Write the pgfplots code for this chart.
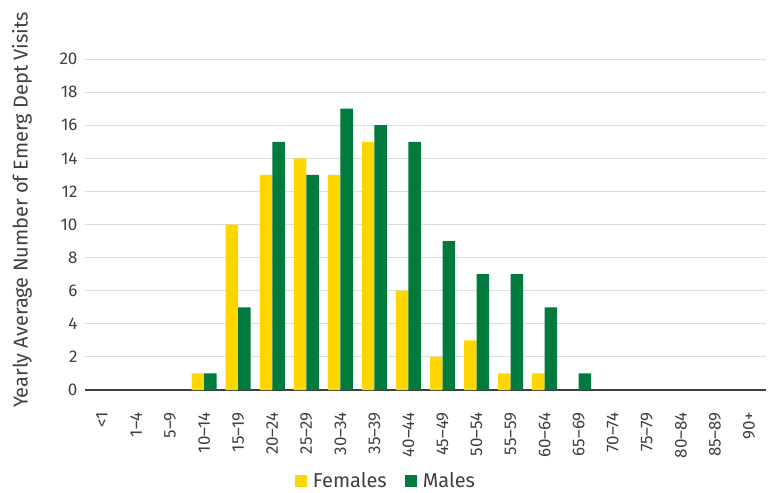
\documentclass[border=0pt]{standalone}
\usepackage{fontspec}
\setmainfont{Fira Sans}
\usepackage{pgfplots}
\pgfplotsset{compat=1.18}
\definecolor{fem}{HTML}{FFD700}
\definecolor{mal}{HTML}{007A3D}
\definecolor{txt}{HTML}{404040}
\definecolor{gridc}{HTML}{DDDDDD}
\begin{document}
\begin{tikzpicture}
\useasboundingbox (-85bp,-103bp) rectangle (689bp,390bp);
\begin{axis}[
  scale only axis,
  width=681bp, height=331bp,
  ybar=0pt, bar width=12.5bp,
  xmin=-0.5, xmax=19.5,
  ymin=0, ymax=20,
  ytick={0,2,...,20},
  xtick={0,...,19},
  xticklabels={<1,1–4,5–9,10–14,15–19,20–24,25–29,30–34,35–39,40–44,45–49,50–54,55–59,60–64,65–69,70–74,75–79,80–84,85–89,90+},
  axis y line*=left,
  y axis line style={draw=none},
  axis x line*=bottom,
  x axis line style={draw=txt, line width=1.3bp, -},
  major tick length=0pt,
  ymajorgrids,
  grid style={draw=gridc, line width=1bp},
  /pgf/number format/assume math mode=true,
  yticklabel style={font=\fontsize{17bp}{20bp}\selectfont, text=txt, xshift=-4bp},
  xticklabel style={font=\fontsize{17bp}{20bp}\selectfont, text=txt, yshift=-22bp, rotate=90, anchor=east, inner sep=0pt},
  ylabel={Yearly Average Number of Emerg Dept Visits},
  every axis y label/.style={at={(axis description cs:0,0.544)}, xshift=-63bp, rotate=90, anchor=center,
    font=\fontsize{20bp}{24bp}\selectfont, text=txt},
  legend columns=2,
  legend style={draw=none, fill=none, at={(axis description cs:0.442,0)}, yshift=-91bp, anchor=center,
    font=\fontsize{20bp}{24bp}\selectfont, text=txt,
    /tikz/every odd column/.append style={column sep=4bp},
    /tikz/every even column/.append style={column sep=16bp}},
  legend image code/.code={\fill[#1] (0bp,-6bp) rectangle (12bp,6bp);},
]
\addplot[fill=fem, draw=none] coordinates {(3,1)(4,10)(5,13)(6,14)(7,13)(8,15)(9,6)(10,2)(11,3)(12,1)(13,1)};
\addplot[fill=mal, draw=none] coordinates {(3,1)(4,5)(5,15)(6,13)(7,17)(8,16)(9,15)(10,9)(11,7)(12,7)(13,5)(14,1)};
\legend{Females, Males}
\end{axis}
\end{tikzpicture}
\end{document}
